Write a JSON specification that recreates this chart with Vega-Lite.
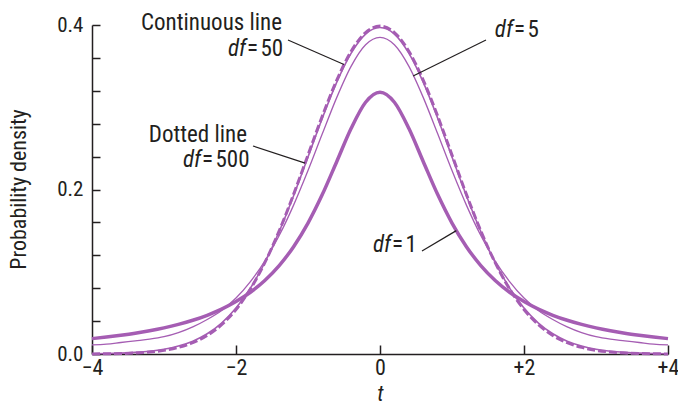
{
  "$schema": "https://vega.github.io/schema/vega-lite/v6.json",
  "width": 576,
  "height": 329,
  "autosize": {"type": "none"},
  "padding": {"left": 92, "top": 25, "right": 10, "bottom": 50},
  "background": "white",
  "datasets": {
    "curves": [
      {"t": -4, "df": "1", "p": 0.0187}, {"t": -3.8, "df": "1", "p": 0.0206}, {"t": -3.6, "df": "1", "p": 0.0228}, {"t": -3.4, "df": "1", "p": 0.0253},
      {"t": -3.2, "df": "1", "p": 0.0283}, {"t": -3, "df": "1", "p": 0.0318}, {"t": -2.8, "df": "1", "p": 0.0360}, {"t": -2.6, "df": "1", "p": 0.0410},
      {"t": -2.4, "df": "1", "p": 0.0471}, {"t": -2.2, "df": "1", "p": 0.0545}, {"t": -2, "df": "1", "p": 0.0637}, {"t": -1.8, "df": "1", "p": 0.0751},
      {"t": -1.6, "df": "1", "p": 0.0894}, {"t": -1.4, "df": "1", "p": 0.1075}, {"t": -1.2, "df": "1", "p": 0.1305}, {"t": -1, "df": "1", "p": 0.1592},
      {"t": -0.8, "df": "1", "p": 0.1941}, {"t": -0.6, "df": "1", "p": 0.2341}, {"t": -0.4, "df": "1", "p": 0.2744}, {"t": -0.2, "df": "1", "p": 0.3061},
      {"t": 0, "df": "1", "p": 0.3183},
      {"t": 0.2, "df": "1", "p": 0.3061}, {"t": 0.4, "df": "1", "p": 0.2744}, {"t": 0.6, "df": "1", "p": 0.2341}, {"t": 0.8, "df": "1", "p": 0.1941},
      {"t": 1, "df": "1", "p": 0.1592}, {"t": 1.2, "df": "1", "p": 0.1305}, {"t": 1.4, "df": "1", "p": 0.1075}, {"t": 1.6, "df": "1", "p": 0.0894},
      {"t": 1.8, "df": "1", "p": 0.0751}, {"t": 2, "df": "1", "p": 0.0637}, {"t": 2.2, "df": "1", "p": 0.0545}, {"t": 2.4, "df": "1", "p": 0.0471},
      {"t": 2.6, "df": "1", "p": 0.0410}, {"t": 2.8, "df": "1", "p": 0.0360}, {"t": 3, "df": "1", "p": 0.0318}, {"t": 3.2, "df": "1", "p": 0.0283},
      {"t": 3.4, "df": "1", "p": 0.0253}, {"t": 3.6, "df": "1", "p": 0.0228}, {"t": 3.8, "df": "1", "p": 0.0206}, {"t": 4, "df": "1", "p": 0.0187},

      {"t": -4, "df": "5", "p": 0.011}, {"t": -3.8, "df": "5", "p": 0.012}, {"t": -3.6, "df": "5", "p": 0.014}, {"t": -3.4, "df": "5", "p": 0.016},
      {"t": -3.2, "df": "5", "p": 0.018}, {"t": -3, "df": "5", "p": 0.021}, {"t": -2.8, "df": "5", "p": 0.026}, {"t": -2.6, "df": "5", "p": 0.033},
      {"t": -2.4, "df": "5", "p": 0.042}, {"t": -2.2, "df": "5", "p": 0.053}, {"t": -2, "df": "5", "p": 0.068}, {"t": -1.8, "df": "5", "p": 0.088},
      {"t": -1.6, "df": "5", "p": 0.113}, {"t": -1.4, "df": "5", "p": 0.144}, {"t": -1.2, "df": "5", "p": 0.181}, {"t": -1, "df": "5", "p": 0.223},
      {"t": -0.8, "df": "5", "p": 0.268}, {"t": -0.6, "df": "5", "p": 0.312}, {"t": -0.4, "df": "5", "p": 0.350}, {"t": -0.2, "df": "5", "p": 0.376},
      {"t": 0, "df": "5", "p": 0.385},
      {"t": 0.2, "df": "5", "p": 0.376}, {"t": 0.4, "df": "5", "p": 0.350}, {"t": 0.6, "df": "5", "p": 0.312}, {"t": 0.8, "df": "5", "p": 0.268},
      {"t": 1, "df": "5", "p": 0.223}, {"t": 1.2, "df": "5", "p": 0.181}, {"t": 1.4, "df": "5", "p": 0.144}, {"t": 1.6, "df": "5", "p": 0.113},
      {"t": 1.8, "df": "5", "p": 0.088}, {"t": 2, "df": "5", "p": 0.068}, {"t": 2.2, "df": "5", "p": 0.053}, {"t": 2.4, "df": "5", "p": 0.042},
      {"t": 2.6, "df": "5", "p": 0.033}, {"t": 2.8, "df": "5", "p": 0.026}, {"t": 3, "df": "5", "p": 0.021}, {"t": 3.2, "df": "5", "p": 0.018},
      {"t": 3.4, "df": "5", "p": 0.016}, {"t": 3.6, "df": "5", "p": 0.014}, {"t": 3.8, "df": "5", "p": 0.012}, {"t": 4, "df": "5", "p": 0.011},

      {"t": -4, "df": "50", "p": 0.0003}, {"t": -3.8, "df": "50", "p": 0.0006}, {"t": -3.6, "df": "50", "p": 0.0011}, {"t": -3.4, "df": "50", "p": 0.0020},
      {"t": -3.2, "df": "50", "p": 0.0034}, {"t": -3, "df": "50", "p": 0.0058}, {"t": -2.8, "df": "50", "p": 0.0097}, {"t": -2.6, "df": "50", "p": 0.0156},
      {"t": -2.4, "df": "50", "p": 0.0246}, {"t": -2.2, "df": "50", "p": 0.0376}, {"t": -2, "df": "50", "p": 0.0558}, {"t": -1.8, "df": "50", "p": 0.0801},
      {"t": -1.6, "df": "50", "p": 0.1111}, {"t": -1.4, "df": "50", "p": 0.1489}, {"t": -1.2, "df": "50", "p": 0.1925}, {"t": -1, "df": "50", "p": 0.2396},
      {"t": -0.8, "df": "50", "p": 0.2870}, {"t": -0.6, "df": "50", "p": 0.3306}, {"t": -0.4, "df": "50", "p": 0.3659}, {"t": -0.2, "df": "50", "p": 0.3890},
      {"t": 0, "df": "50", "p": 0.3970},
      {"t": 0.2, "df": "50", "p": 0.3890}, {"t": 0.4, "df": "50", "p": 0.3659}, {"t": 0.6, "df": "50", "p": 0.3306}, {"t": 0.8, "df": "50", "p": 0.2870},
      {"t": 1, "df": "50", "p": 0.2396}, {"t": 1.2, "df": "50", "p": 0.1925}, {"t": 1.4, "df": "50", "p": 0.1489}, {"t": 1.6, "df": "50", "p": 0.1111},
      {"t": 1.8, "df": "50", "p": 0.0801}, {"t": 2, "df": "50", "p": 0.0558}, {"t": 2.2, "df": "50", "p": 0.0376}, {"t": 2.4, "df": "50", "p": 0.0246},
      {"t": 2.6, "df": "50", "p": 0.0156}, {"t": 2.8, "df": "50", "p": 0.0097}, {"t": 3, "df": "50", "p": 0.0058}, {"t": 3.2, "df": "50", "p": 0.0034},
      {"t": 3.4, "df": "50", "p": 0.0020}, {"t": 3.6, "df": "50", "p": 0.0011}, {"t": 3.8, "df": "50", "p": 0.0006}, {"t": 4, "df": "50", "p": 0.0003},

      {"t": -4, "df": "500", "p": 0.0001}, {"t": -3.8, "df": "500", "p": 0.0003}, {"t": -3.6, "df": "500", "p": 0.0006}, {"t": -3.4, "df": "500", "p": 0.0012},
      {"t": -3.2, "df": "500", "p": 0.0024}, {"t": -3, "df": "500", "p": 0.0044}, {"t": -2.8, "df": "500", "p": 0.0080}, {"t": -2.6, "df": "500", "p": 0.0137},
      {"t": -2.4, "df": "500", "p": 0.0225}, {"t": -2.2, "df": "500", "p": 0.0356}, {"t": -2, "df": "500", "p": 0.0541}, {"t": -1.8, "df": "500", "p": 0.0791},
      {"t": -1.6, "df": "500", "p": 0.1110}, {"t": -1.4, "df": "500", "p": 0.1497}, {"t": -1.2, "df": "500", "p": 0.1941}, {"t": -1, "df": "500", "p": 0.2419},
      {"t": -0.8, "df": "500", "p": 0.2895}, {"t": -0.6, "df": "500", "p": 0.3330}, {"t": -0.4, "df": "500", "p": 0.3681}, {"t": -0.2, "df": "500", "p": 0.3908},
      {"t": 0, "df": "500", "p": 0.3987},
      {"t": 0.2, "df": "500", "p": 0.3908}, {"t": 0.4, "df": "500", "p": 0.3681}, {"t": 0.6, "df": "500", "p": 0.3330}, {"t": 0.8, "df": "500", "p": 0.2895},
      {"t": 1, "df": "500", "p": 0.2419}, {"t": 1.2, "df": "500", "p": 0.1941}, {"t": 1.4, "df": "500", "p": 0.1497}, {"t": 1.6, "df": "500", "p": 0.1110},
      {"t": 1.8, "df": "500", "p": 0.0791}, {"t": 2, "df": "500", "p": 0.0541}, {"t": 2.2, "df": "500", "p": 0.0356}, {"t": 2.4, "df": "500", "p": 0.0225},
      {"t": 2.6, "df": "500", "p": 0.0137}, {"t": 2.8, "df": "500", "p": 0.0080}, {"t": 3, "df": "500", "p": 0.0044}, {"t": 3.2, "df": "500", "p": 0.0024},
      {"t": 3.4, "df": "500", "p": 0.0012}, {"t": 3.6, "df": "500", "p": 0.0006}, {"t": 3.8, "df": "500", "p": 0.0003}, {"t": 4, "df": "500", "p": 0.0001}
    ],
    "captions": [
      {"t": -1.361, "p": 0.3939, "label": "Continuous line"},
      {"t": -1.847, "p": 0.2578, "label": "Dotted line"}
    ],
    "values": [
      {"t": -1.847, "p": 0.3623, "label": "=\u200a50"},
      {"t": -2.472, "p": 0.2274, "label": "=\u200a500"},
      {"t": 1.861, "p": 0.3854, "label": "=\u200a5"},
      {"t": 0.167, "p": 0.1240, "label": "=\u200a1"}
    ],
    "leaders": [
      {"t": -1.278, "p": 0.3818, "t2": -0.5, "p2": 0.352},
      {"t": -1.764, "p": 0.2529, "t2": -1.04, "p2": 0.232},
      {"t": 1.472, "p": 0.3818, "t2": 0.46, "p2": 0.338},
      {"t": 0.583, "p": 0.1252, "t2": 1.06, "p2": 0.150}
    ]
  },
  "encoding": {
    "x": {
      "field": "t", "type": "quantitative",
      "scale": {"domain": [-4, 4], "nice": false},
      "axis": {
        "title": "t",
        "titleFontStyle": "italic",
        "titleFontSize": 22,
        "titleBaseline": "alphabetic",
        "titleY": 46,
        "values": [-4, -2, 0, 2, 4],
        "labelExpr": "datum.value > 0 ? '+' + datum.value : (datum.value < 0 ? '\u2212' + abs(datum.value) : '0')",
        "labelFlush": false,
        "tickSize": -9,
        "labelPadding": 12,
        "labelBaseline": "top",
        "labelFontSize": 22
      }
    },
    "y": {
      "field": "p", "type": "quantitative",
      "scale": {"domain": [0, 0.4], "nice": false},
      "axis": {
        "title": "Probability density",
        "titleFontSize": 22,
        "titleX": -74,
        "titleY": 164,
        "titleBaseline": "middle",
        "values": [0, 0.04, 0.08, 0.12, 0.16, 0.2, 0.24, 0.28, 0.32, 0.36, 0.4],
        "labelExpr": "indexof([0, 0.2, 0.4], datum.value) >= 0 ? format(datum.value, '.1f') : ''",
        "tickSize": -8,
        "labelPadding": 17,
        "labelFontSize": 21
      }
    }
  },
  "layer": [
    {
      "data": {"name": "curves"},
      "transform": [{"filter": "datum.df === '1'"}],
      "mark": {"type": "line", "interpolate": "monotone", "color": "#a55db3", "strokeWidth": 3.5}
    },
    {
      "data": {"name": "curves"},
      "transform": [{"filter": "datum.df === '5'"}],
      "mark": {"type": "line", "interpolate": "monotone", "color": "#a55db3", "strokeWidth": 1.3}
    },
    {
      "data": {"name": "curves"},
      "transform": [{"filter": "datum.df === '50'"}],
      "mark": {"type": "line", "interpolate": "monotone", "color": "#a55db3", "strokeWidth": 1.6}
    },
    {
      "data": {"name": "curves"},
      "transform": [{"filter": "datum.df === '500'"}],
      "mark": {"type": "line", "interpolate": "monotone", "color": "#a55db3", "strokeWidth": 3, "strokeDash": [8, 3]}
    },
    {
      "data": {"name": "leaders"},
      "mark": {"type": "rule", "color": "#231f20", "strokeWidth": 1.2},
      "encoding": {
        "x2": {"field": "t2"},
        "y2": {"field": "p2"}
      }
    },
    {
      "data": {"name": "captions"},
      "mark": {"type": "text", "align": "right", "baseline": "alphabetic", "font": "Roboto Condensed, Liberation Sans Narrow, Arial Narrow, DejaVu Sans Condensed, sans-serif", "fontSize": 23, "color": "#231f20"},
      "encoding": {"text": {"field": "label"}}
    },
    {
      "data": {"name": "values"},
      "mark": {"type": "text", "align": "left", "baseline": "alphabetic", "font": "Roboto Condensed, Liberation Sans Narrow, Arial Narrow, DejaVu Sans Condensed, sans-serif", "fontSize": 23, "color": "#231f20"},
      "encoding": {"text": {"field": "label"}}
    },
    {
      "data": {"name": "values"},
      "mark": {"type": "text", "align": "right", "baseline": "alphabetic", "dx": -1, "font": "Roboto Condensed, Liberation Sans Narrow, Arial Narrow, DejaVu Sans Condensed, sans-serif", "fontSize": 23, "fontStyle": "italic", "color": "#231f20"},
      "encoding": {"text": {"value": "df"}}
    }
  ],
  "config": {
    "view": {"stroke": null},
    "axis": {
      "grid": false,
      "domainColor": "#231f20",
      "domainWidth": 1.5,
      "tickColor": "#231f20",
      "tickWidth": 1.5,
      "labelColor": "#231f20",
      "titleColor": "#231f20",
      "labelFontWeight": "normal",
      "titleFontWeight": "normal",
      "labelFont": "Roboto Condensed, Liberation Sans Narrow, Arial Narrow, DejaVu Sans Condensed, sans-serif",
      "titleFont": "Roboto Condensed, Liberation Sans Narrow, Arial Narrow, DejaVu Sans Condensed, sans-serif"
    }
  }
}
